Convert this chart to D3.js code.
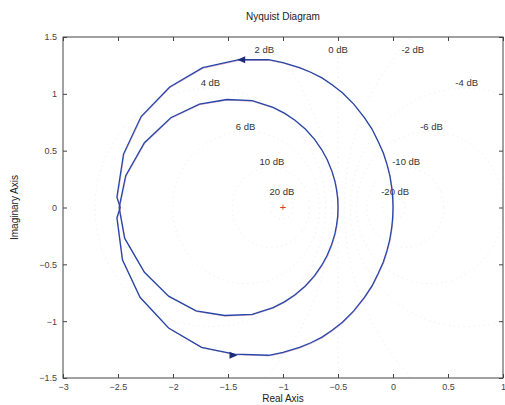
<!DOCTYPE html>
<html>
<head>
<meta charset="utf-8">
<script src="https://cdn.jsdelivr.net/npm/d3@7"></script>
<style>
  body { margin: 0; background: #fff; }
  svg text { font-family: "Liberation Sans", Arial, sans-serif; }
</style>
</head>
<body>
<div id="chart"></div>
<script>
// nyquist curve (real / imaginary parts)
const outerRe = [0, -0.003, -0.011, -0.029, -0.055, -0.088, -0.135, -0.191, -0.26, -0.357, -0.46, -0.554, -0.645, -0.747, -0.85, -1.00, -1.13,
                 -1.40, -1.73, -2.03, -2.29, -2.45, -2.51, -2.48,
                 -2.51, -2.46, -2.30, -2.04, -1.74, -1.44,
                 -1.13, -1.00, -0.85, -0.747, -0.645, -0.554, -0.46, -0.357, -0.26, -0.191, -0.135, -0.088, -0.055, -0.029, -0.011, -0.003, 0];
const outerIm = [0, 0.09, 0.17, 0.28, 0.38, 0.48, 0.58, 0.69, 0.79, 0.91, 1.01, 1.08, 1.14, 1.19, 1.23, 1.275, 1.30,
                 1.30, 1.23, 1.06, 0.80, 0.47, 0.09, 0,
                 -0.09, -0.46, -0.79, -1.06, -1.23, -1.29,
                 -1.30, -1.275, -1.23, -1.19, -1.14, -1.08, -1.01, -0.91, -0.79, -0.69, -0.58, -0.48, -0.38, -0.28, -0.17, -0.09, 0];

const innerRe = [-0.50, -0.503, -0.514, -0.528, -0.556, -0.598, -0.649, -0.713, -0.797, -0.894, -0.988, -1.09, -1.28, -1.51, -1.76, -2.02, -2.26, -2.43, -2.49,
                 -2.44, -2.26, -2.04, -1.79, -1.53, -1.28, -1.09, -0.988, -0.894, -0.797, -0.713, -0.649, -0.598, -0.556, -0.528, -0.514, -0.503, -0.50];
const innerIm = [0, 0.08, 0.16, 0.23, 0.32, 0.42, 0.51, 0.60, 0.69, 0.77, 0.83, 0.88, 0.94, 0.95, 0.91, 0.79, 0.57, 0.28, 0,
                 -0.27, -0.57, -0.78, -0.91, -0.95, -0.94, -0.88, -0.83, -0.77, -0.69, -0.60, -0.51, -0.42, -0.32, -0.23, -0.16, -0.08, 0];

// direction arrows on the outer loop (dir: -1 points left, 1 points right)
const arrowRe = [-1.38, -1.45];
const arrowIm = [1.30, -1.30];
const arrowDir = [-1, 1];

// constant gain (M) circles and their labels
const gridDb = [20, 10, 6, 4, 2, 0, -2, -4, -6, -10, -20];
const gridLabelRe = [-1.01, -1.10, -1.34, -1.66, -1.17, -0.50, 0.18, 0.67, 0.35, 0.12, 0.02];
const gridLabelIm = [0.14, 0.40, 0.715, 1.10, 1.39, 1.39, 1.39, 1.10, 0.715, 0.40, 0.14];

const xTicks = [-3, -2.5, -2, -1.5, -1, -0.5, 0, 0.5, 1];
const yTicks = [-1.5, -1, -0.5, 0, 0.5, 1, 1.5];

const width = 505, height = 405;
const margin = {top: 37, right: 2, bottom: 27, left: 63};

const svg = d3.select('#chart').append('svg')
  .attr('width', width)
  .attr('height', height);

const x = d3.scaleLinear().domain([-3, 1]).range([margin.left, width - margin.right]);
const y = d3.scaleLinear().domain([-1.5, 1.5]).range([height - margin.bottom, margin.top]);

svg.append('clipPath').attr('id', 'plotclip')
  .append('rect')
  .attr('x', margin.left).attr('y', margin.top)
  .attr('width', x(1) - x(-3)).attr('height', y(-1.5) - y(1.5));

// grid, barely visible dotted like the scan
const grid = svg.append('g').attr('clip-path', 'url(#plotclip)');
gridDb.forEach(db => {
  const M = Math.pow(10, db / 20);
  if (db === 0) {
    grid.append('line')
      .attr('x1', x(-0.5)).attr('x2', x(-0.5))
      .attr('y1', y(-1.5)).attr('y2', y(1.5))
      .attr('stroke', '#ececec').attr('stroke-dasharray', '1,4');
  } else {
    const cx = M * M / (1 - M * M);
    const r = Math.abs(M / (1 - M * M));
    grid.append('ellipse')
      .attr('cx', x(cx)).attr('cy', y(0))
      .attr('rx', x(cx + r) - x(cx)).attr('ry', y(0) - y(r))
      .attr('fill', 'none')
      .attr('stroke', '#ececec').attr('stroke-dasharray', '1,4');
  }
});

gridDb.forEach((db, i) => {
  svg.append('text')
    .attr('x', x(gridLabelRe[i]))
    .attr('y', y(gridLabelIm[i]))
    .attr('dy', '0.35em')
    .attr('text-anchor', 'middle')
    .attr('font-size', 9.5)
    .attr('fill', '#333')
    .text(db + ' dB');
});

// axes, ticks pointing inwards on all four sides
const fmt = d3.format('');
svg.append('g')
  .attr('transform', `translate(0,${y(-1.5)})`)
  .call(d3.axisBottom(x).tickValues(xTicks).tickSize(-4).tickPadding(6).tickFormat(fmt))
  .call(g => g.select('.domain').remove());
svg.append('g')
  .attr('transform', `translate(0,${y(1.5)})`)
  .call(d3.axisTop(x).tickValues(xTicks).tickSize(-4).tickFormat(''))
  .call(g => g.select('.domain').remove());
svg.append('g')
  .attr('transform', `translate(${x(-3)},0)`)
  .call(d3.axisLeft(y).tickValues(yTicks).tickSize(-4).tickPadding(6).tickFormat(fmt))
  .call(g => g.select('.domain').remove());
svg.append('g')
  .attr('transform', `translate(${x(1)},0)`)
  .call(d3.axisRight(y).tickValues(yTicks).tickSize(-4).tickFormat(''))
  .call(g => g.select('.domain').remove());

svg.selectAll('.tick line').attr('stroke', '#444');
svg.selectAll('.tick text').attr('font-size', 9).attr('fill', '#444')
  .attr('font-family', '"Liberation Sans", Arial, sans-serif');

svg.append('rect')
  .attr('x', x(-3)).attr('y', y(1.5))
  .attr('width', x(1) - x(-3)).attr('height', y(-1.5) - y(1.5))
  .attr('fill', 'none').attr('stroke', '#444').attr('stroke-width', 1);

// curves
const line = d3.line().x(d => x(d[0])).y(d => y(d[1]));
const outer = outerRe.map((v, i) => [v, outerIm[i]]);
const inner = innerRe.map((v, i) => [v, innerIm[i]]);

const curves = svg.append('g').attr('clip-path', 'url(#plotclip)');
[outer, inner].forEach(pts => {
  curves.append('path').datum(pts)
    .attr('d', line)
    .attr('transform', 'translate(0.5,0.6)')
    .attr('fill', 'none').attr('stroke', '#c0507a').attr('stroke-width', 1).attr('opacity', 0.45);
  curves.append('path').datum(pts)
    .attr('d', line)
    .attr('fill', 'none').attr('stroke', '#2546a8').attr('stroke-width', 1.3);
});

arrowRe.forEach((re, i) => {
  const px = x(re), py = y(arrowIm[i]), d = arrowDir[i];
  svg.append('path')
    .attr('d', `M${px + d * 4},${py} L${px - d * 4},${py - 3.5} L${px - d * 4},${py + 3.5} Z`)
    .attr('fill', '#1c2c78');
});

// critical point
svg.append('text')
  .attr('x', x(-1)).attr('y', y(0))
  .attr('dy', '0.35em')
  .attr('text-anchor', 'middle')
  .attr('font-size', 11)
  .attr('fill', '#e03030')
  .text('+');

// titles
svg.append('text')
  .attr('x', (x(-3) + x(1)) / 2).attr('y', 20)
  .attr('text-anchor', 'middle')
  .attr('font-size', 10).attr('fill', '#222')
  .text('Nyquist Diagram');
svg.append('text')
  .attr('x', x(-1)).attr('y', 402)
  .attr('text-anchor', 'middle')
  .attr('font-size', 10).attr('fill', '#222')
  .text('Real Axis');
svg.append('text')
  .attr('transform', `translate(18,${y(0)}) rotate(-90)`)
  .attr('text-anchor', 'middle')
  .attr('font-size', 10).attr('fill', '#222')
  .text('Imaginary Axis');
</script>
</body>
</html>
